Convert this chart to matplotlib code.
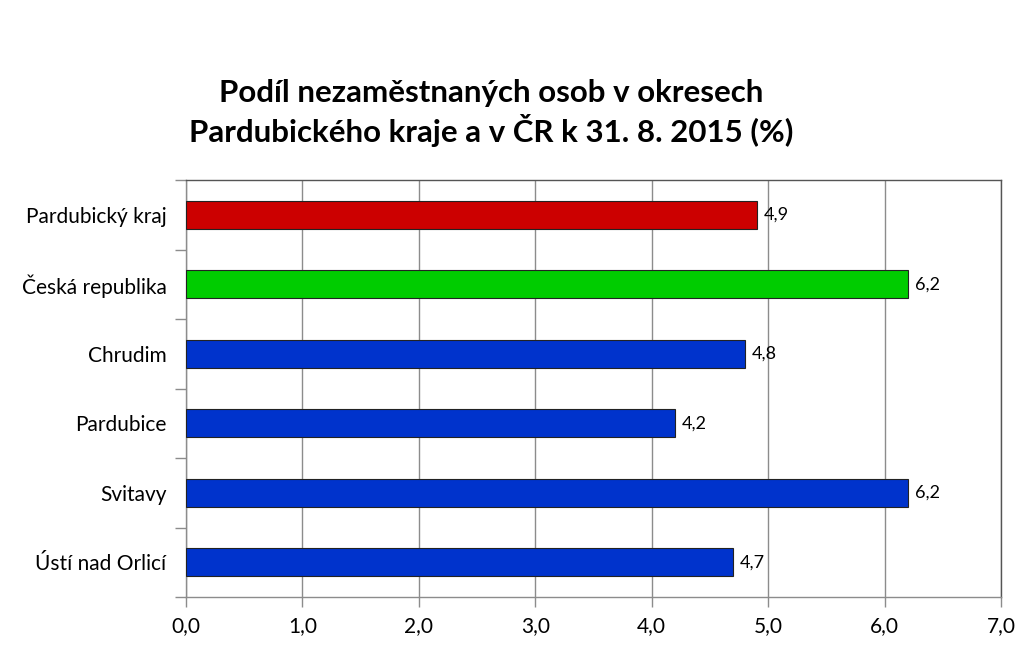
import matplotlib.pyplot as plt
from matplotlib.ticker import FuncFormatter, FixedLocator

# data
categories = ["Pardubický kraj", "Česká republika", "Chrudim", "Pardubice", "Svitavy", "Ústí nad Orlicí"]
values = [4.9, 6.2, 4.8, 4.2, 6.2, 4.7]
colors = ["#CC0000", "#00CC00", "#0033CC", "#0033CC", "#0033CC", "#0033CC"]
title = "Podíl nezaměstnaných osob v okresech\nPardubického kraje a v ČR k 31. 8. 2015 (%)"

plt.rcParams['font.family'] = ['Lato', 'DejaVu Sans']

fig = plt.figure(figsize=(10.24, 6.63), dpi=100)
ax = fig.add_axes([186 / 1024, 66 / 663, 815 / 1024, 417 / 663])

ypos = list(range(len(categories)))
ax.barh(ypos, values, height=0.4, color=colors, edgecolor="#222222", linewidth=0.8, zorder=3)

for y, v in zip(ypos, values):
    ax.text(v + 0.06, y, f"{v:.1f}".replace(".", ","), va="center", ha="left", fontsize=13, zorder=4)

ax.set_xlim(0, 7)
ax.set_ylim(len(categories) - 0.5, -0.5)
ax.set_xticks(range(8))
ax.xaxis.set_major_formatter(FuncFormatter(lambda x, p: f"{x:.1f}".replace(".", ",")))
ax.grid(axis="x", color="#8c8c8c", linewidth=1, zorder=0)

# category labels centered, ticks at boundaries
ax.set_yticks(ypos)
ax.set_yticklabels(categories)
ax.yaxis.set_minor_locator(FixedLocator([i - 0.5 for i in range(len(categories) + 1)]))
ax.tick_params(axis="y", which="major", length=0, pad=14, labelsize=15)
ax.tick_params(axis="y", which="minor", length=8, color="#8c8c8c", width=1)
ax.tick_params(axis="x", length=7, color="#8c8c8c", width=1, labelsize=15, pad=7)

ax.spines["left"].set_color("#8c8c8c")
ax.spines["bottom"].set_color("#8c8c8c")
ax.spines["top"].set_color("#555555")
ax.spines["right"].set_color("#555555")
for s in ax.spines.values():
    s.set_linewidth(1)

fig.text(0.48, 0.83, title, ha="center", va="center", fontsize=22.5, fontweight="bold", linespacing=1.25)

fig.savefig("out.png", dpi=100, facecolor="white")
